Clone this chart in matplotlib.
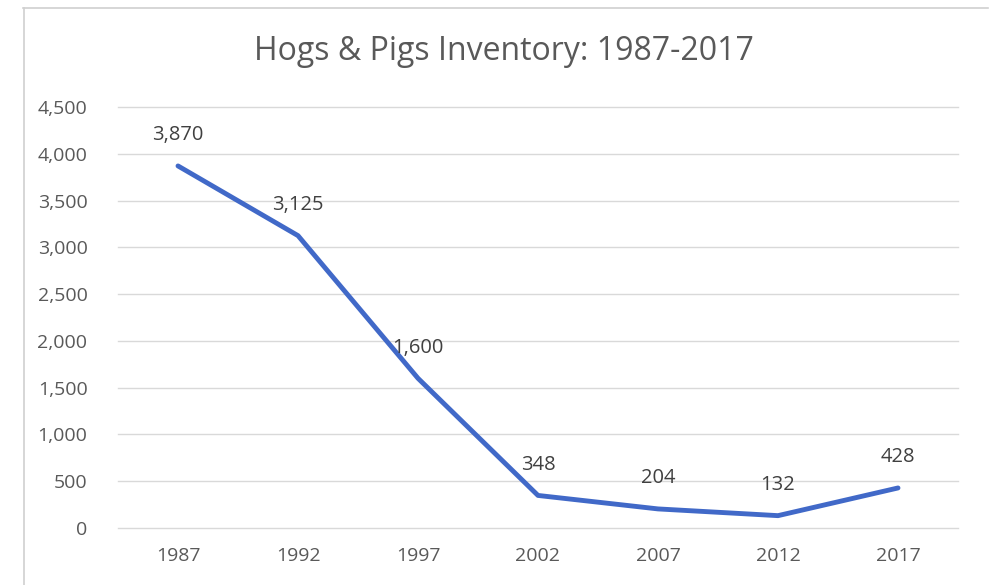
import matplotlib.pyplot as plt
from matplotlib.lines import Line2D
from matplotlib.ticker import FuncFormatter

years = ["1987", "1992", "1997", "2002", "2007", "2012", "2017"]
inventory = [3870, 3125, 1600, 348, 204, 132, 428]
y_ticks = [0, 500, 1000, 1500, 2000, 2500, 3000, 3500, 4000, 4500]

plt.rcParams['font.family'] = ['Open Sans', 'DejaVu Sans']

W, H = 993, 585
fig = plt.figure(figsize=(W / 100, H / 100), dpi=100)
fig.patch.set_facecolor('white')

# plot area in pixels: x 118..958, y 107..528
ax = fig.add_axes([118 / W, 1 - 528 / H, 840 / W, 421 / H])

x = list(range(len(years)))
ax.plot(x, inventory, color='#4169C8', linewidth=3.5, solid_capstyle='round',
        solid_joinstyle='round', zorder=3)

for xi, v in zip(x, inventory):
    ax.annotate(f"{v:,}", (xi, v), xytext=(0, 22), textcoords='offset points',
                ha='center', va='center', fontsize=14.5, color='#404040')

ax.set_xlim(-0.5, len(years) - 0.5)
ax.set_ylim(0, 4500)
ax.set_yticks(y_ticks)
ax.yaxis.set_major_formatter(FuncFormatter(lambda v, p: f"{int(v):,}"))
ax.set_xticks(x)
ax.set_xticklabels(years)
ax.tick_params(axis='both', length=0, labelsize=14, labelcolor='#595959')
ax.tick_params(axis='y', pad=22)
ax.tick_params(axis='x', pad=14)
ax.grid(axis='y', color='#d9d9d9', linewidth=1)
for gl in ax.get_ygridlines():
    gl.set_clip_on(False)
ax.set_axisbelow(True)
for s in ax.spines.values():
    s.set_visible(False)

fig.text(504 / W, 1 - 52 / H, "Hogs & Pigs Inventory: 1987-2017",
         ha='center', va='center', fontsize=23, color='#595959')

# chart frame (top and left edges visible in the crop)
fig.add_artist(Line2D([23 / W, 988 / W], [1 - 8 / H, 1 - 8 / H],
                      transform=fig.transFigure, color='#d0d0d0', linewidth=1.2))
fig.add_artist(Line2D([24 / W, 24 / W], [0, 1 - 8 / H],
                      transform=fig.transFigure, color='#d0d0d0', linewidth=1.2))

fig.savefig('out.png', dpi=100)
